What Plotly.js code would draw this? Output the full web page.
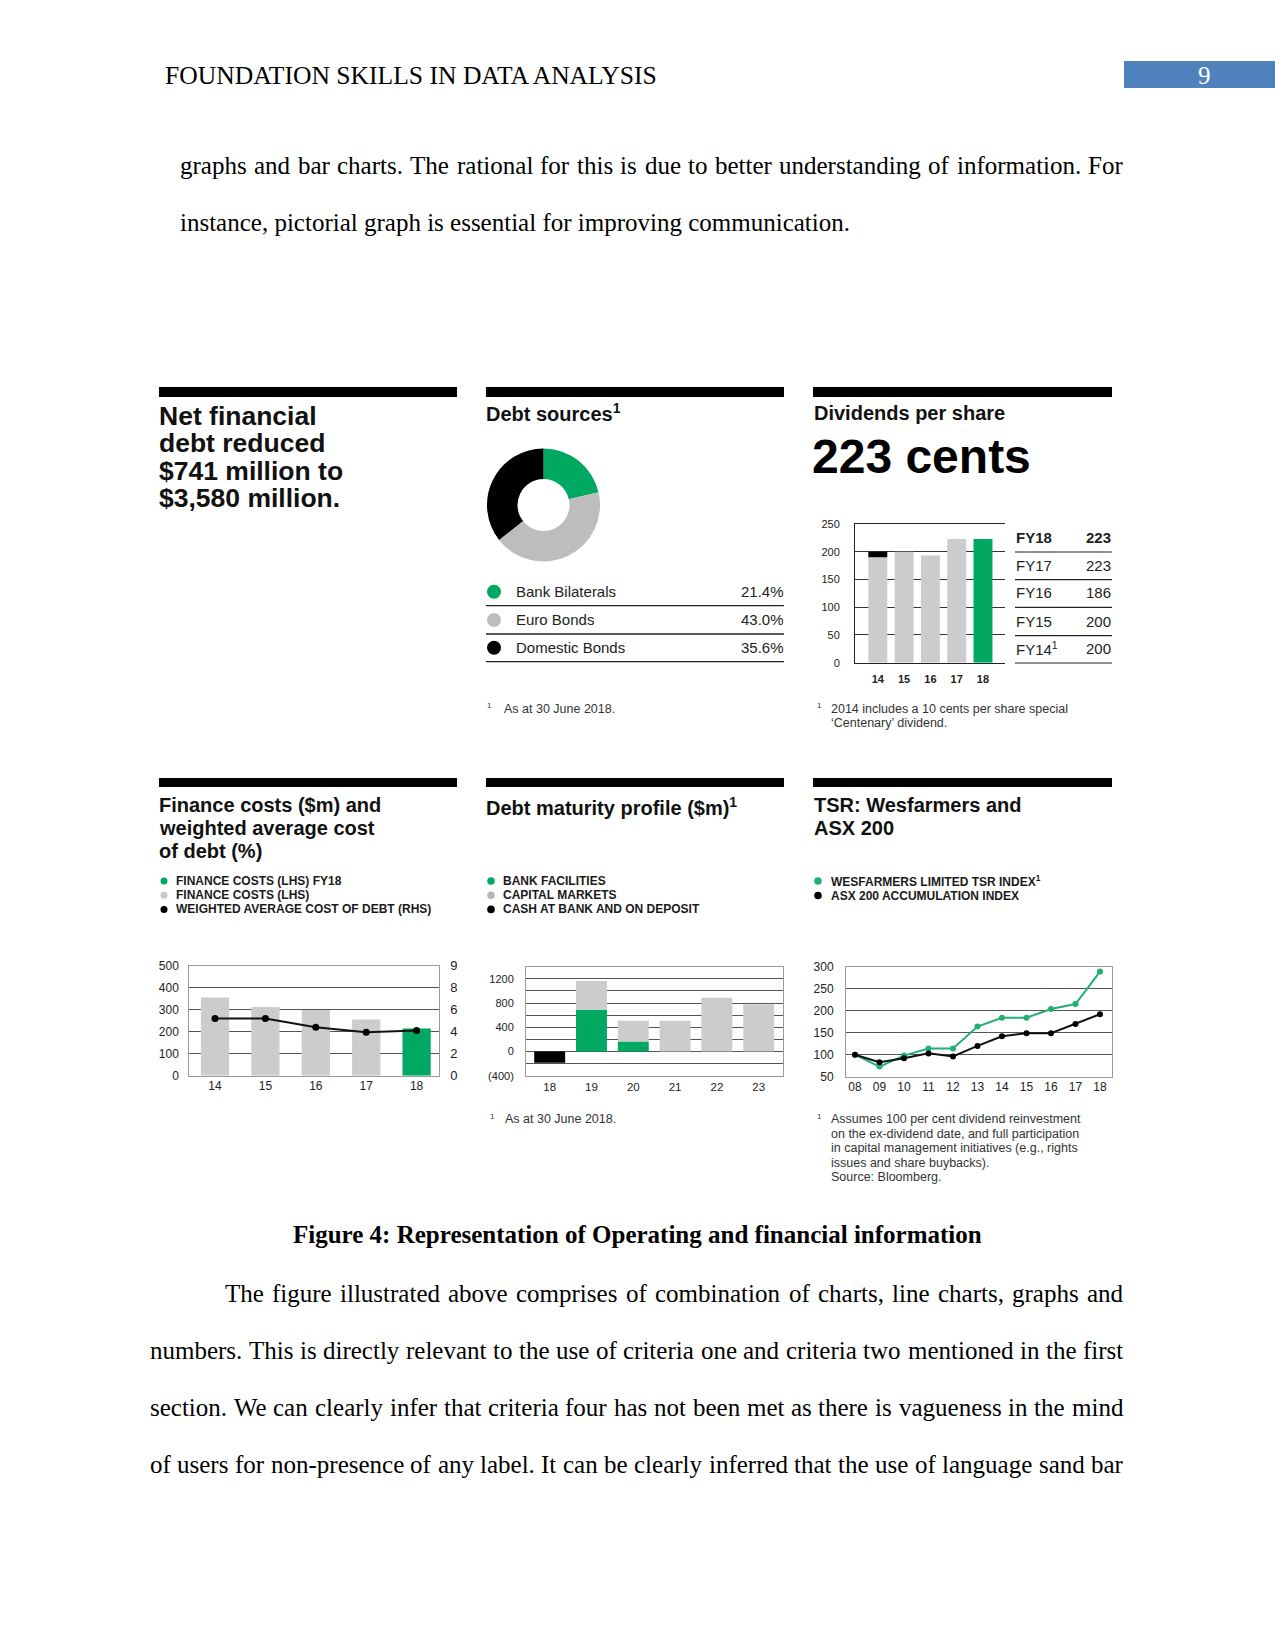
<!DOCTYPE html>
<html>
<head>
<meta charset="utf-8">
<script src="https://cdn.plot.ly/plotly-3.0.1.min.js"></script>
<style>
html,body{margin:0;padding:0;background:#fff;}
#page{width:1275px;height:1651px;}
</style>
</head>
<body>
<div id="page"></div>
<script>
// ---------------- DATA ----------------
const debtLabels = ['Bank Bilaterals', 'Euro Bonds', 'Domestic Bonds'];
const debtShares = [21.4, 43.0, 35.6];
const debtShareText = ['21.4%', '43.0%', '35.6%'];

const divYears = ['14', '15', '16', '17', '18'];
const divOrdinary = [190, 200, 193, 223, null];
const divSpecial = [10, null, null, null, null];
const divFY18 = [null, null, null, null, 223];
const divTableYears = ['FY18', 'FY17', 'FY16', 'FY15', 'FY14<sup>1</sup>'];
const divTableValues = ['223', '223', '186', '200', '200'];
const divTicks = [0, 50, 100, 150, 200, 250];

const finYears = ['14', '15', '16', '17', '18'];
const finCosts = [355, 312, 299, 256, 214];
const finCurrentYear = '18';
const wacd = [5.2, 5.2, 4.4, 3.95, 4.1];
const finLeftTicks = [0, 100, 200, 300, 400, 500];
const finRightTicks = [0, 2, 4, 6, 8, 10];
const finRightTickText = ['0', '2', '4', '6', '8', '9'];

const matYears = ['18', '19', '20', '21', '22', '23'];
const bankFacilities = [null, 688, 163, null, null, null];
const capitalMarkets = [null, 476, 346, 509, 888, 780];
const cashAtBank = [-185, null, null, null, null, null];
const matTicks = [-400, 0, 400, 800, 1200];
const matTickText = ['(400)', '0', '400', '800', '1200'];
const matMinorTicks = [-200, 200, 600, 1000, 1400];

const tsrYears = ['08', '09', '10', '11', '12', '13', '14', '15', '16', '17', '18'];
const wesTSR = [100, 73, 98, 114, 114, 164, 184, 184, 204, 215, 289];
const asx200 = [100, 83, 92, 103, 96, 120, 142, 149, 149, 170, 192];
const tsrTicks = [50, 100, 150, 200, 250, 300];

// ---------------- HELPERS ----------------
const W = 1275, H = 1651;
const X = p => p / W;
const Y = p => 1 - p / H;
const domX = (a, b) => [X(a), X(b)];
const domY = (top, bottom) => [Y(bottom), Y(top)];

const GREEN = '#00a862';
const GREEN_LINE = '#22b070';
const GRAY = '#cccccc';
const PIE_GRAY = '#bdbdbd';
const BLACK = '#000000';
const SANS = '"Liberation Sans", Arial, Helvetica, sans-serif';
const SERIF = '"Liberation Serif", "Times New Roman", serif';
const TXT = '#1a1a1a';

const ann = [];
const shp = [];
function T(text, px, py, o = {}) {
  ann.push({
    xref: 'paper', yref: 'paper', x: X(px), y: Y(py), text: text, showarrow: false,
    xanchor: o.anchor || 'left', yanchor: 'middle', borderpad: 0, borderwidth: 0,
    font: { family: o.family || SANS, size: o.size || 12, color: o.color || TXT, weight: o.weight || 'normal' }
  });
}
function hline(x0, x1, y, color, w) {
  shp.push({ type: 'line', xref: 'paper', yref: 'paper', x0: X(x0), x1: X(x1), y0: Y(y), y1: Y(y), line: { color: color, width: w } });
}
function rect(x0, y0, x1, y1, color) {
  shp.push({ type: 'rect', xref: 'paper', yref: 'paper', x0: X(x0), x1: X(x1), y0: Y(y1), y1: Y(y0), fillcolor: color, line: { width: 0 } });
}
function dot(cx, cy, r, color) {
  shp.push({ type: 'circle', xref: 'paper', yref: 'paper', x0: X(cx - r), x1: X(cx + r), y0: Y(cy + r), y1: Y(cy - r), fillcolor: color, line: { width: 0 } });
}
const canvas = document.createElement('canvas');
const ctx = canvas.getContext('2d');
function bodyLine(text, x0, x1, y, justify, size = 25) {
  if (!justify) { T(text, x0, y, { family: SERIF, size: size, color: '#000' }); return; }
  ctx.font = size + 'px "Liberation Serif"';
  const words = text.split(' ');
  const widths = words.map(w => ctx.measureText(w).width);
  const total = widths.reduce((a, b) => a + b, 0);
  const gap = (x1 - x0 - total) / (words.length - 1);
  let x = x0;
  words.forEach((w, i) => { T(w, x, y, { family: SERIF, size: size, color: '#000' }); x += widths[i] + gap; });
}

// ---------------- PAGE TEXT ----------------
T('FOUNDATION SKILLS IN DATA ANALYSIS', 165, 75, { family: SERIF, size: 25.6, color: '#000' });
rect(1124, 61, 1275, 88, '#4f81bd');
T('9', 1204, 75, { family: SERIF, size: 25, color: '#fff', anchor: 'center' });

bodyLine('graphs and bar charts. The rational for this is due to better understanding of information. For', 180, 1123, 165, true);
bodyLine('instance, pictorial graph is essential for improving communication.', 180, 1123, 222, false);

T('Figure 4: Representation of Operating and financial information', 637, 1234, { family: SERIF, size: 25, color: '#000', weight: 'bold', anchor: 'center' });
bodyLine('The figure illustrated above comprises of combination of charts, line charts, graphs and', 225, 1123, 1293, true);
bodyLine('numbers. This is directly relevant to the use of criteria one and criteria two mentioned in the first', 150, 1123, 1350, true);
bodyLine('section. We can clearly infer that criteria four has not been met as there is vagueness in the mind', 150, 1123, 1407, true);
bodyLine('of users for non-presence of any label. It can be clearly inferred that the use of language sand bar', 150, 1123, 1464, true);

// ---------------- PANEL FRAMES ----------------
rect(159, 387, 457, 397, BLACK);
rect(486, 387, 784, 397, BLACK);
rect(813, 387, 1112, 397, BLACK);
rect(159, 778, 457, 787, BLACK);
rect(486, 778, 784, 787, BLACK);
rect(813, 778, 1112, 787, BLACK);

// Panel 1
['Net financial', 'debt reduced', '$741 million to', '$3,580 million.'].forEach((s, i) =>
  T(s, 159, 416 + i * 27.4, { size: 26.5, weight: 'bold', color: '#111' }));

// Panel 2: Debt sources
T('Debt sources<sup>1</sup>', 486, 413, { size: 20, weight: 'bold', color: '#111' });
const debtColors = [GREEN, PIE_GRAY, BLACK];
const debtRowY = [591.7, 620, 647.7];
debtLabels.forEach((lab, i) => {
  dot(494, debtRowY[i], 7, debtColors[i]);
  T(lab, 516, debtRowY[i], { size: 15, color: '#222' });
  T(debtShareText[i], 784, debtRowY[i], { size: 15, color: '#222', anchor: 'right' });
  hline(486, 784, debtRowY[i] + 14, '#222', 1.3);
});
T('1', 487, 706, { size: 8, color: '#333' });
T('As at 30 June 2018.', 504, 709, { size: 12.5, color: '#333' });

// Panel 3: Dividends
T('Dividends per share', 814, 413, { size: 20, weight: 'bold', color: '#111' });
T('223 cents', 812, 457, { size: 48, weight: 'bold', color: '#000' });
const divRowY = [537.3, 565, 592.7, 621, 648.3];
divTableYears.forEach((lab, i) => {
  T(lab, 1016, divRowY[i], { size: 15, color: '#222', weight: i === 0 ? 'bold' : 'normal' });
  T(divTableValues[i], 1111, divRowY[i], { size: 15, color: '#222', weight: i === 0 ? 'bold' : 'normal', anchor: 'right' });
  hline(1015, 1112, divRowY[i] + 14.7, '#222', 1.2);
});
T('1', 817, 706, { size: 8, color: '#333' });
T('2014 includes a 10 cents per share special', 831, 709, { size: 12.5, color: '#333' });
T('\u2018Centenary\u2019 dividend.', 831, 723, { size: 12.5, color: '#333' });

// Panel 4: Finance costs
['Finance costs ($m) and', 'weighted average cost', 'of debt (%)'].forEach((s, i) =>
  T(s, 159, 805 + i * 23, { size: 20, weight: 'bold', color: '#111' }));
const finLegend = ['FINANCE COSTS (LHS) FY18', 'FINANCE COSTS (LHS)', 'WEIGHTED AVERAGE COST OF DEBT (RHS)'];
const finLegendColors = [GREEN, '#c8c8c8', BLACK];
finLegend.forEach((s, i) => {
  dot(164, 881 + i * 14.2, 3.5, finLegendColors[i]);
  T(s, 176, 881 + i * 14.2, { size: 12, weight: 'bold', color: '#1a1a1a' });
});

// Panel 5: Debt maturity
T('Debt maturity profile ($m)<sup>1</sup>', 486, 806, { size: 20, weight: 'bold', color: '#111' });
const matLegend = ['BANK FACILITIES', 'CAPITAL MARKETS', 'CASH AT BANK AND ON DEPOSIT'];
const matLegendColors = [GREEN, '#b8b8b8', BLACK];
matLegend.forEach((s, i) => {
  dot(491, 881 + i * 14.2, 3.8, matLegendColors[i]);
  T(s, 503, 881 + i * 14.2, { size: 12, weight: 'bold', color: '#1a1a1a' });
});
T('1', 490, 1116, { size: 8, color: '#333' });
T('As at 30 June 2018.', 505, 1119, { size: 12.5, color: '#333' });

// Panel 6: TSR
['TSR: Wesfarmers and', 'ASX 200'].forEach((s, i) =>
  T(s, 814, 805 + i * 22.5, { size: 20, weight: 'bold', color: '#111' }));
const tsrLegend = ['WESFARMERS LIMITED TSR INDEX<sup>1</sup>', 'ASX 200 ACCUMULATION INDEX'];
const tsrLegendColors = [GREEN_LINE, BLACK];
tsrLegend.forEach((s, i) => {
  dot(818, 881 + i * 14.5, 3.8, tsrLegendColors[i]);
  T(s, 831, 881 + i * 14.5, { size: 12, weight: 'bold', color: '#1a1a1a' });
});
T('1', 817, 1116, { size: 8, color: '#333' });
['Assumes 100 per cent dividend reinvestment',
 'on the ex-dividend date, and full participation',
 'in capital management initiatives (e.g., rights',
 'issues and share buybacks).',
 'Source: Bloomberg.'].forEach((s, i) => T(s, 831, 1119 + i * 14.5, { size: 12.5, color: '#333' }));

// ---------------- TRACES ----------------
const traces = [];
traces.push({
  type: 'pie', labels: debtLabels, values: debtShares, sort: false, direction: 'clockwise', rotation: 0,
  hole: 0.46, textinfo: 'none', marker: { colors: debtColors, line: { width: 0 } },
  domain: { x: domX(487, 600), y: domY(448, 562) }, showlegend: false, hoverinfo: 'label+percent'
});
// Dividends
traces.push({ type: 'bar', x: divYears, y: divOrdinary, xaxis: 'x', yaxis: 'y', marker: { color: GRAY }, width: 0.72, name: 'Ordinary' });
traces.push({ type: 'bar', x: divYears, y: divSpecial, xaxis: 'x', yaxis: 'y', marker: { color: BLACK }, width: 0.72, name: 'Special' });
traces.push({ type: 'bar', x: divYears, y: divFY18, xaxis: 'x', yaxis: 'y', marker: { color: GREEN }, width: 0.72, name: 'FY18' });
// Finance costs
traces.push({ type: 'bar', x: finYears, y: finCosts.map((v, i) => finYears[i] === finCurrentYear ? null : v), xaxis: 'x2', yaxis: 'y2', marker: { color: GRAY }, width: 0.56, name: finLegend[1] });
traces.push({ type: 'bar', x: finYears, y: finCosts.map((v, i) => finYears[i] === finCurrentYear ? v : null), xaxis: 'x2', yaxis: 'y2', marker: { color: GREEN }, width: 0.56, name: finLegend[0] });
traces.push({ type: 'scatter', mode: 'lines+markers', x: finYears, y: wacd, xaxis: 'x2', yaxis: 'y3', line: { color: '#111', width: 2 }, marker: { color: '#000', size: 7 }, name: finLegend[2] });
// Debt maturity
traces.push({ type: 'bar', x: matYears, y: bankFacilities, xaxis: 'x3', yaxis: 'y4', marker: { color: GREEN }, width: 0.74, name: matLegend[0] });
traces.push({ type: 'bar', x: matYears, y: capitalMarkets, xaxis: 'x3', yaxis: 'y4', marker: { color: GRAY }, width: 0.74, name: matLegend[1] });
traces.push({ type: 'bar', x: matYears, y: cashAtBank, xaxis: 'x3', yaxis: 'y4', marker: { color: BLACK }, width: 0.74, name: matLegend[2] });
// TSR
traces.push({ type: 'scatter', mode: 'lines+markers', x: tsrYears, y: wesTSR, xaxis: 'x4', yaxis: 'y5', line: { color: GREEN_LINE, width: 2 }, marker: { color: GREEN_LINE, size: 6 }, name: 'Wesfarmers' });
traces.push({ type: 'scatter', mode: 'lines+markers', x: tsrYears, y: asx200, xaxis: 'x4', yaxis: 'y5', line: { color: '#111', width: 2 }, marker: { color: '#000', size: 6 }, name: 'ASX 200' });

// ---------------- AXES ----------------
const tf = (size, weight) => ({ family: SANS, size: size, color: '#222', weight: weight || 'normal' });
const catX = (dom, anchor, cats, range, o = {}) => Object.assign({
  domain: dom, anchor: anchor, type: 'category', categoryorder: 'array', categoryarray: cats, range: range,
  showgrid: false, zeroline: false, ticks: '', fixedrange: true
}, o);

const layout = {
  width: W, height: H, margin: { l: 0, r: 0, t: 0, b: 0 }, autosize: false,
  paper_bgcolor: '#fff', plot_bgcolor: 'rgba(0,0,0,0)', showlegend: false, barmode: 'relative',
  font: { family: SANS, color: TXT },
  annotations: ann, shapes: shp,
  xaxis: catX(domX(855, 1005), 'y', divYears, [-0.867, 4.837], {
    showline: true, mirror: true, linecolor: '#222', linewidth: 1,
    tickfont: tf(11, 'bold'), ticklabelstandoff: 6
  }),
  yaxis: {
    domain: domY(524, 662.7), anchor: 'x', range: [0, 250], tickvals: divTicks,
    showgrid: true, gridcolor: '#333', gridwidth: 1, zeroline: false,
    showline: true, linecolor: '#222', linewidth: 1, ticks: '', tickfont: tf(11), ticklabelstandoff: 12
  },
  xaxis2: catX(domX(189.3, 439.3), 'y2', finYears, [-0.51, 4.45], {
    showline: true, mirror: true, linecolor: '#9a9a9a', linewidth: 1, tickfont: tf(12), ticklabelstandoff: -1
  }),
  yaxis2: {
    domain: domY(965.7, 1075.7), anchor: 'x2', range: [0, 500], tickvals: finLeftTicks,
    showgrid: true, gridcolor: '#555', gridwidth: 1, zeroline: false,
    showline: true, mirror: true, linecolor: '#9a9a9a', linewidth: 1, ticks: '', tickfont: tf(12), ticklabelstandoff: 7
  },
  yaxis3: {
    overlaying: 'y2', side: 'right', anchor: 'x2', range: [0, 10], tickvals: finRightTicks, ticktext: finRightTickText,
    showgrid: false, zeroline: false, showline: false, ticks: '', tickfont: tf(13), ticklabelstandoff: 10
  },
  xaxis3: catX(domX(526, 783.3), 'y4', matYears, [-0.567, 5.589], {
    showline: true, mirror: true, linecolor: '#9a9a9a', linewidth: 1, tickfont: tf(11.5), ticklabelstandoff: 0
  }),
  yaxis4: {
    domain: domY(966.7, 1075.7), anchor: 'x3', range: [-400, 1400], tickvals: matTicks, ticktext: matTickText,
    showgrid: true, gridcolor: '#555', gridwidth: 1, zeroline: false,
    minor: { tickmode: 'array', tickvals: matMinorTicks, showgrid: true, gridcolor: '#555', gridwidth: 1, ticks: '' },
    showline: true, mirror: true, linecolor: '#9a9a9a', linewidth: 1, ticks: '', tickfont: tf(11), ticklabelstandoff: 9
  },
  xaxis4: catX(domX(846, 1112), 'y5', tsrYears, [-0.367, 10.49], {
    showline: true, mirror: true, linecolor: '#9a9a9a', linewidth: 1, tickfont: tf(12), ticklabelstandoff: -1
  }),
  yaxis5: {
    domain: domY(966.7, 1076.7), anchor: 'x4', range: [50, 300], tickvals: tsrTicks,
    showgrid: true, gridcolor: '#555', gridwidth: 1, zeroline: false,
    showline: true, mirror: true, linecolor: '#9a9a9a', linewidth: 1, ticks: '', tickfont: tf(12), ticklabelstandoff: 9
  }
};

Plotly.newPlot('page', traces, layout, { displayModeBar: false, staticPlot: true });
</script>
</body>
</html>
